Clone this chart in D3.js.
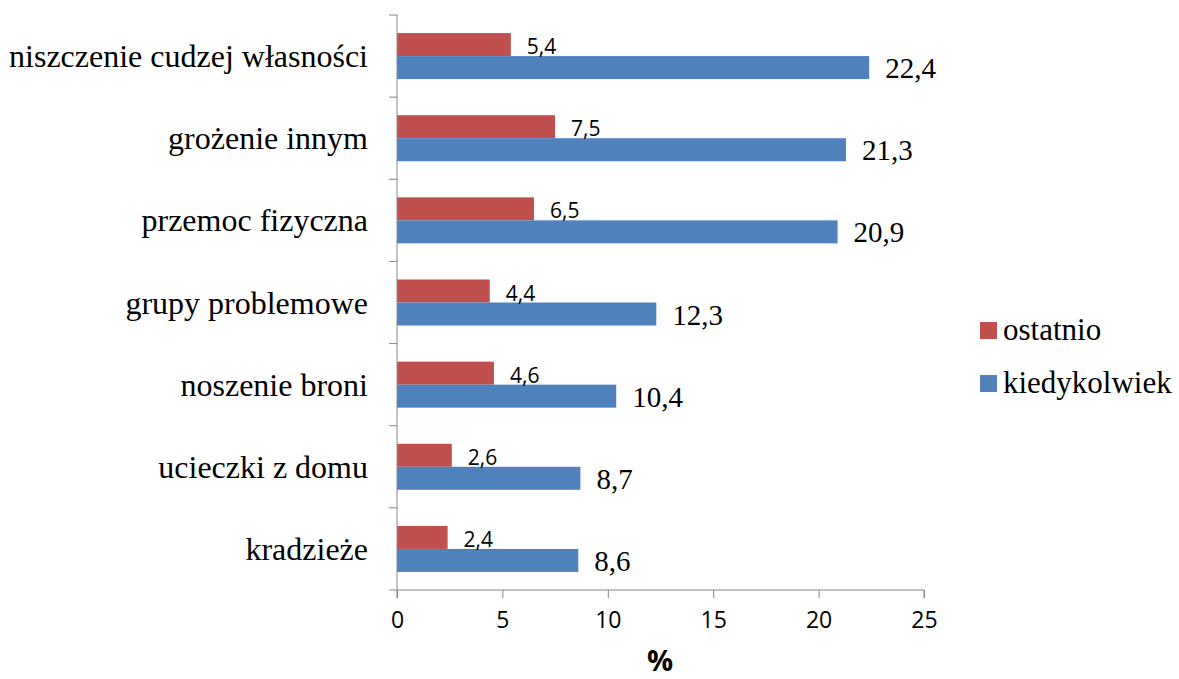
<!DOCTYPE html>
<html>
<head>
<meta charset="utf-8">
<script src="https://cdn.jsdelivr.net/npm/d3@7"></script>
<style>
  body { margin: 0; background: #fff; }
  .sans { font-family: "Open Sans", "Liberation Sans", Arial, sans-serif; }
  .serif { font-family: "Liberation Serif", "Times New Roman", serif; }
</style>
</head>
<body>
<svg id="chart" width="1179" height="679"></svg>
<script>
const categories = ['niszczenie cudzej własności', 'grożenie innym', 'przemoc fizyczna', 'grupy problemowe', 'noszenie broni', 'ucieczki z domu', 'kradzieże']
const ostatnio = [5.4, 7.5, 6.5, 4.4, 4.6, 2.6, 2.4]
const kiedykolwiek = [22.4, 21.3, 20.9, 12.3, 10.4, 8.7, 8.6]
const xTicks = [0, 5, 10, 15, 20, 25]
const seriesNames = ['ostatnio', 'kiedykolwiek']
const colors = ['#C0504D', '#4F81BD']

const svg = d3.select('#chart')
const plotLeft = 397, plotRight = 924, plotTop = 15, plotBottom = 590

const x = d3.scaleLinear().domain([0, 25]).range([plotLeft, plotRight])
const y = d3.scaleBand().domain(categories).range([plotTop, plotBottom]).paddingInner(0.44).paddingOuter(0.22)
const sub = d3.scaleBand().domain(seriesNames).range([0, y.bandwidth()])

const fmt = v => String(v).replace('.', ',')

const rows = categories.map((c, i) => ({ c, vals: [ostatnio[i], kiedykolwiek[i]] }))

// bars + value labels
const g = svg.append('g')
rows.forEach(r => {
    r.vals.forEach((v, j) => {
        g.append('rect')
            .attr('x', x(0))
            .attr('y', y(r.c) + sub(seriesNames[j]))
            .attr('width', x(v) - x(0))
            .attr('height', sub.bandwidth())
            .attr('fill', colors[j])
    })
    // red label, small sans
    svg.append('text')
        .attr('class', 'sans')
        .attr('x', x(r.vals[0]) + 16)
        .attr('y', y(r.c) + sub.bandwidth() - 2)
        .style('font-size', '21px')
        .attr('fill', '#000')
        .text(fmt(r.vals[0]))
    // blue label, serif
    svg.append('text')
        .attr('class', 'serif')
        .attr('x', x(r.vals[1]) + 16)
        .attr('y', y(r.c) + sub.bandwidth() * 2 - 1)
        .style('font-size', '29px')
        .attr('fill', '#000')
        .text(fmt(r.vals[1]))
})

// axes
const axisColor = '#868686'
const xAxis = svg.append('g')
    .attr('transform', `translate(0,${plotBottom})`)
    .call(d3.axisBottom(x).tickValues(xTicks).tickSize(8).tickPadding(14))
xAxis.attr('font-family', null).attr('font-size', null)
xAxis.select('.domain').attr('stroke', axisColor).attr('d', `M${plotLeft},8V0H${plotRight}V8`)
xAxis.selectAll('.tick line').attr('stroke', axisColor)
xAxis.selectAll('.tick text')
    .attr('class', 'sans')
    .attr('y', 22)
    .attr('dy', '0.71em')
    .style('font-size', '23px')
    .attr('fill', '#000')

// y axis line with boundary ticks
const bounds = d3.range(categories.length + 1).map(i => plotTop + i * (plotBottom - plotTop) / categories.length)
svg.append('line')
    .attr('x1', plotLeft).attr('x2', plotLeft)
    .attr('y1', plotTop).attr('y2', plotBottom)
    .attr('stroke', axisColor)
svg.selectAll('.ytick').data(bounds).enter().append('line')
    .attr('x1', plotLeft - 8).attr('x2', plotLeft)
    .attr('y1', d => d).attr('y2', d => d)
    .attr('stroke', axisColor)

// category labels
svg.selectAll('.cat').data(categories).enter().append('text')
    .attr('class', 'serif')
    .attr('x', 368)
    .attr('y', d => y(d) + y.bandwidth() / 2 + 11)
    .attr('text-anchor', 'end')
    .style('font-size', '32px')
    .attr('fill', '#000')
    .text(d => d)

// x title
svg.append('text')
    .attr('class', 'sans')
    .attr('x', 660)
    .attr('y', 671)
    .attr('text-anchor', 'middle')
    .style('font-weight', 'bold')
    .style('font-size', '29px')
    .text('%')

// legend
const legend = svg.append('g')
seriesNames.forEach((s, i) => {
    const ly = 330 + i * 53
    legend.append('rect')
        .attr('x', 980).attr('y', ly - 8)
        .attr('width', 17).attr('height', 17)
        .attr('fill', colors[i])
    legend.append('text')
        .attr('class', 'serif')
        .attr('x', 1003).attr('y', ly + 10)
        .style('font-size', '31px')
        .text(s)
})
</script>
</body>
</html>
